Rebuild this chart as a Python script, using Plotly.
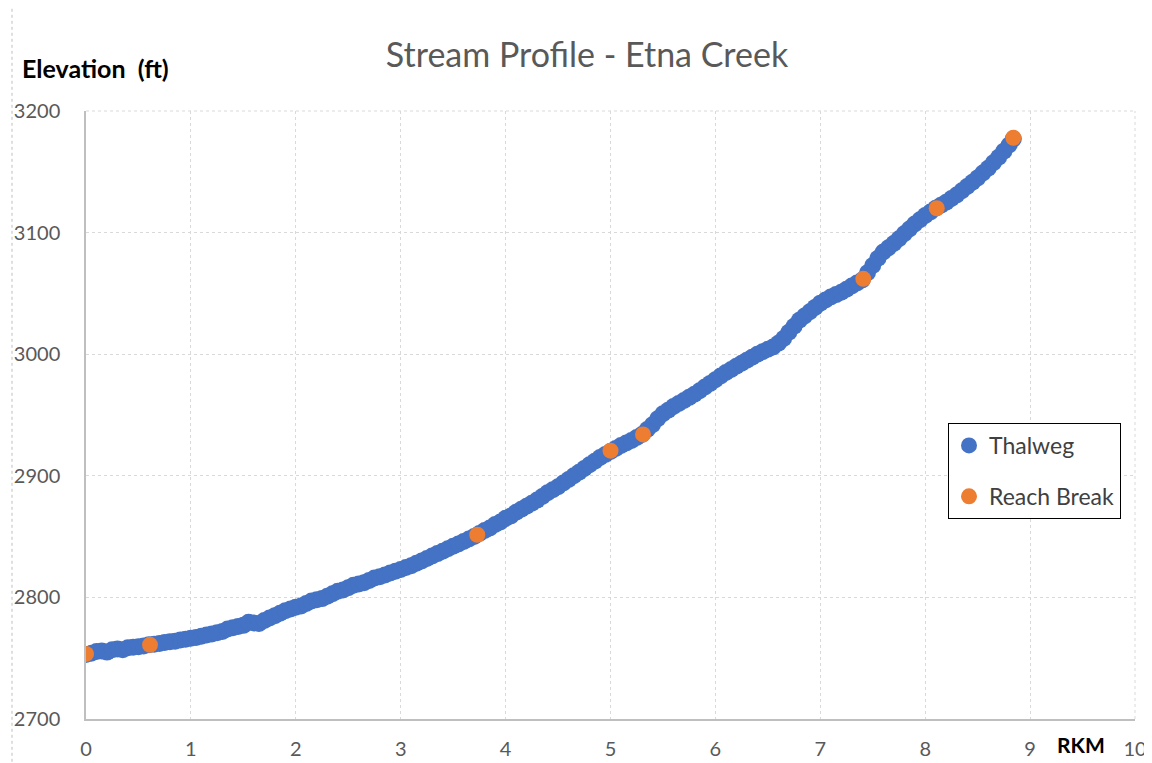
import plotly.graph_objects as go

# Thalweg profile (RKM, elevation ft)
rkm = [0.00, 0.05, 0.10, 0.15, 0.20, 0.25, 0.30, 0.35, 0.40, 0.45,
       0.50, 0.55, 0.60, 0.65, 0.70, 0.75, 0.80, 0.85, 0.90, 0.95,
       1.00, 1.05, 1.10, 1.15, 1.20, 1.25, 1.30, 1.35, 1.40, 1.45,
       1.50, 1.55, 1.60, 1.65, 1.70, 1.75, 1.80, 1.85, 1.90, 1.95,
       2.00, 2.05, 2.10, 2.15, 2.20, 2.25, 2.30, 2.35, 2.40, 2.45,
       2.50, 2.55, 2.60, 2.65, 2.70, 2.75, 2.80, 2.85, 2.90, 2.95,
       3.00, 3.05, 3.10, 3.15, 3.20, 3.25, 3.30, 3.35, 3.40, 3.45,
       3.50, 3.55, 3.60, 3.65, 3.70, 3.75, 3.80, 3.85, 3.90, 3.95,
       4.00, 4.05, 4.10, 4.15, 4.20, 4.25, 4.30, 4.35, 4.40, 4.45,
       4.50, 4.55, 4.60, 4.65, 4.70, 4.75, 4.80, 4.85, 4.90, 4.95,
       5.00, 5.05, 5.10, 5.15, 5.20, 5.25, 5.30, 5.35, 5.40, 5.45,
       5.50, 5.55, 5.60, 5.65, 5.70, 5.75, 5.80, 5.85, 5.90, 5.95,
       6.00, 6.05, 6.10, 6.15, 6.20, 6.25, 6.30, 6.35, 6.40, 6.45,
       6.50, 6.55, 6.60, 6.65, 6.70, 6.75, 6.80, 6.85, 6.90, 6.95,
       7.00, 7.05, 7.10, 7.15, 7.20, 7.25, 7.30, 7.35, 7.40, 7.45,
       7.50, 7.55, 7.60, 7.65, 7.70, 7.75, 7.80, 7.85, 7.90, 7.95,
       8.00, 8.05, 8.10, 8.15, 8.20, 8.25, 8.30, 8.35, 8.40, 8.45,
       8.50, 8.55, 8.60, 8.65, 8.70, 8.75, 8.80, 8.84]
elev = [2753, 2754, 2755.5, 2756, 2755, 2757, 2757.5, 2757, 2758.5, 2759,
        2759.5, 2760, 2761, 2761.5, 2762, 2763, 2763.5, 2764, 2765, 2765.5,
        2766.5, 2767, 2768, 2769, 2770, 2771, 2772, 2774, 2775, 2776,
        2777, 2779.5, 2779, 2778.5, 2781, 2783, 2785, 2787, 2789, 2790.5,
        2792, 2793, 2795, 2797, 2798, 2799, 2801, 2803, 2805, 2806,
        2808, 2810, 2811, 2812, 2814, 2816, 2817, 2818.5, 2820, 2821.5,
        2823, 2824.5, 2826, 2828, 2830, 2832, 2834, 2836, 2838, 2840,
        2842, 2844, 2846, 2848, 2850, 2852.5, 2855, 2857, 2860, 2862,
        2865, 2867, 2870, 2872.5, 2875, 2877.5, 2880, 2883, 2886, 2888.5,
        2891, 2894, 2897, 2900, 2903, 2906, 2909, 2912, 2915, 2917.5,
        2920, 2922.5, 2925, 2927, 2929, 2931.5, 2934, 2938, 2942, 2947,
        2951, 2954, 2957, 2959.5, 2962, 2964.5, 2967, 2970, 2973, 2976,
        2979, 2982, 2985, 2987.5, 2990, 2992.5, 2995, 2997.5, 3000, 3002,
        3004, 3006, 3009, 3013, 3018, 3023, 3028, 3031.5, 3035, 3038.5,
        3042, 3044.5, 3047, 3049, 3051, 3053.5, 3056, 3058.5, 3061, 3067,
        3073, 3079, 3084, 3087.5, 3091, 3095, 3099, 3103, 3107, 3110.5,
        3114, 3117, 3120, 3122.5, 3125, 3128, 3131, 3134.5, 3138, 3141.5,
        3145, 3149, 3153, 3157.5, 3162, 3167, 3172, 3177]

# Reach breaks
break_rkm = [0.0, 0.61, 3.73, 5.0, 5.31, 7.41, 8.11, 8.84]
break_elev = [2753.5, 2761, 2851.5, 2920.7, 2934, 3062, 3120, 3178]

x_ticks = [0, 1, 2, 3, 4, 5, 6, 7, 8, 9, 10]
y_ticks = [2700, 2800, 2900, 3000, 3100, 3200]

FONT = "Lato"
GRAY = "#595959"

# page body has an 8px default margin; size the figure so it fits the window
OFF = 8
W, H = 1152 - OFF, 763 - OFF
L, T, PW, PH = 86 - OFF, 111 - OFF, 1049, 608


def px_x(p):  # page pixel -> paper x
    return (p - OFF - L) / PW


def px_y(p):  # page pixel -> paper y
    return (T + PH - (p - OFF)) / PH


fig = go.Figure()
fig.add_trace(go.Scatter(
    x=rkm, y=elev, mode="markers", name="Thalweg", legendgroup="a",
    marker=dict(color="#4472C4", size=17),
))
fig.add_trace(go.Scatter(
    x=break_rkm, y=break_elev, mode="markers", name="Reach Break", legendgroup="b",
    marker=dict(color="#ED7D31", size=16),
))

fig.update_layout(
    width=W, height=H,
    margin=dict(l=L, r=W - L - PW, t=T, b=H - T - PH, autoexpand=False),
    paper_bgcolor="white", plot_bgcolor="white",
    font=dict(family=FONT, color=GRAY, size=18),
    title=dict(text="Stream Profile - Etna Creek", x=(587 - OFF) / W, xanchor="center",
               y=1 - (55 - OFF) / H, yanchor="middle",
               font=dict(family=FONT, size=34, color=GRAY)),
    showlegend=True,
    legend=dict(x=px_x(948), y=px_y(423), xanchor="left", yanchor="top",
                bordercolor="black", borderwidth=1, bgcolor="white",
                font=dict(family=FONT, size=23, color="#404040"),
                tracegroupgap=18, traceorder="grouped",
                itemwidth=30),
)

fig.update_xaxes(
    range=[0, 10], tickvals=x_ticks, ticktext=[str(v) for v in x_ticks],
    showgrid=True, gridcolor="#d9d9d9", griddash="dot", gridwidth=1,
    showline=True, linecolor="#bfbfbf", linewidth=1.5, mirror=False,
    zeroline=False, ticks="", ticklabelstandoff=11, automargin=False,
    tickfont=dict(size=20, color=GRAY),
)
fig.update_yaxes(
    range=[2700, 3200], tickvals=y_ticks, ticktext=[str(v) for v in y_ticks],
    showgrid=True, gridcolor="#d9d9d9", griddash="dot", gridwidth=1,
    showline=True, linecolor="#bfbfbf", linewidth=1.5,
    zeroline=False, ticks="", ticklabelstandoff=20, automargin=False,
    tickfont=dict(size=20, color=GRAY),
)

# Right and top frame as dashed light lines
fig.add_shape(type="line", xref="paper", yref="paper", x0=1, x1=1, y0=0, y1=1,
              line=dict(color="#d9d9d9", width=1, dash="dot"))
fig.add_shape(type="line", xref="paper", yref="paper", x0=0, x1=1, y0=1, y1=1,
              line=dict(color="#d9d9d9", width=1, dash="dot"))
# Chart area left border
fig.add_shape(type="line", xref="paper", yref="paper",
              x0=px_x(12), x1=px_x(12), y0=-0.1, y1=1.2,
              line=dict(color="#bfbfbf", width=1, dash="dot"))

fig.add_annotation(text="<b>Elevation\u00a0\u00a0(ft)</b>", xref="paper", yref="paper",
                   x=px_x(20), y=px_y(68), xanchor="left", yanchor="middle",
                   showarrow=False, font=dict(family=FONT, size=25, color="black"))
fig.add_annotation(text="<b>RKM</b>", xref="paper", yref="paper",
                   x=px_x(1081), y=px_y(744), xanchor="center", yanchor="middle",
                   showarrow=False, font=dict(family=FONT, size=21, color="black"))

fig.write_html("out.html")
